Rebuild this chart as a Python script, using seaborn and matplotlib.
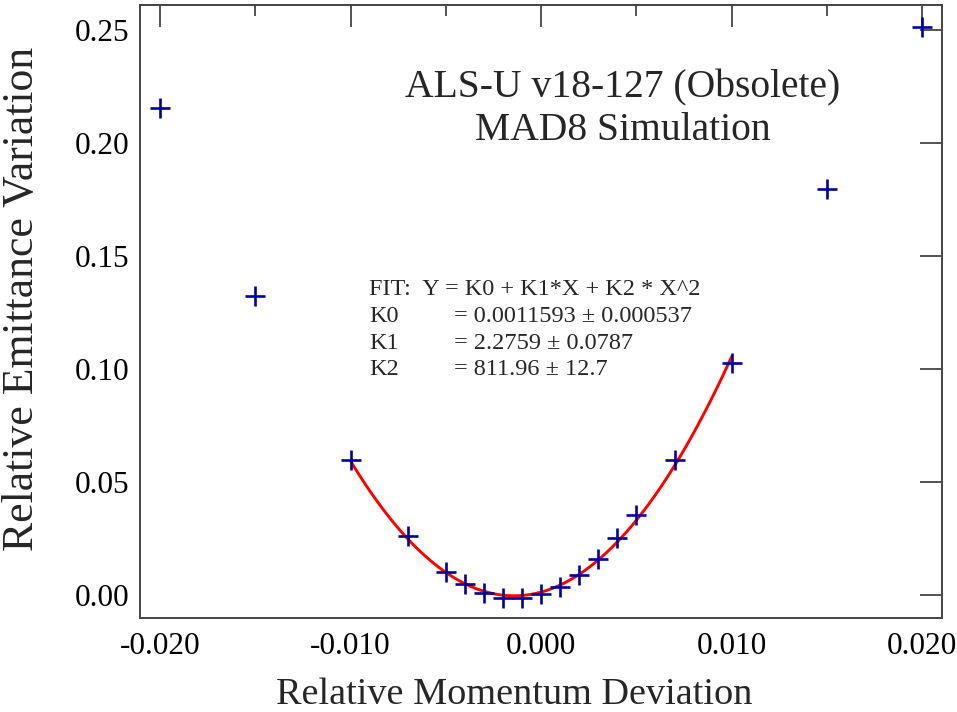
import matplotlib
matplotlib.use("Agg")
import matplotlib.pyplot as plt
import matplotlib.ticker as mticker
import seaborn as sns
import pandas as pd

# relative momentum deviation and relative emittance variation
momentum = [-0.020, -0.015, -0.010, -0.007, -0.005, -0.004, -0.003, -0.002, -0.001,
            0.000, 0.001, 0.002, 0.003, 0.004, 0.005, 0.007, 0.010, 0.015, 0.020]
emittance = [0.2153, 0.1322, 0.0597, 0.0262, 0.0100, 0.0047, 0.0010, -0.0015, -0.0015,
             0.0004, 0.0037, 0.0088, 0.0161, 0.0251, 0.0354, 0.0597, 0.1026, 0.1795, 0.2515]

fit_range = (-0.010, 0.010)
fit_labels = ["K0", "K1", "K2"]
fit_values = ["= 0.0011593 \u00b1 0.000537", "= 2.2759 \u00b1 0.0787", "= 811.96 \u00b1 12.7"]

df = pd.DataFrame({"x": momentum, "y": emittance})
df_fit = df[(df["x"] >= fit_range[0]) & (df["x"] <= fit_range[1])]

sns.set_style("white")
plt.rcParams["font.family"] = ["Liberation Serif", "DejaVu Serif"]
plt.rcParams["axes.unicode_minus"] = False

fig = plt.figure(figsize=(9.57, 7.12), dpi=100)
ax = fig.add_axes([0.1463, 0.1316, 0.8377, 0.8614])

sns.regplot(data=df_fit, x="x", y="y", order=2, scatter=False, ci=None, truncate=True,
            color="#ff0000", line_kws={"linewidth": 2.1}, ax=ax)
sns.scatterplot(data=df, x="x", y="y", marker="+", s=190, color="#00009c",
                linewidth=1.9, ax=ax, zorder=3)

ax.set_xlim(-0.02105, 0.02102)
ax.set_ylim(-0.0103, 0.2611)
ax.xaxis.set_major_locator(mticker.MultipleLocator(0.01))
ax.xaxis.set_minor_locator(mticker.MultipleLocator(0.005))
ax.yaxis.set_major_locator(mticker.MultipleLocator(0.05))
ax.xaxis.set_major_formatter(mticker.FormatStrFormatter("%.3f"))
ax.yaxis.set_major_formatter(mticker.FormatStrFormatter("%.2f"))
ax.tick_params(which="both", direction="in", top=True, right=True, colors="#444444",
               labelcolor="black", labelsize=22.5, width=1.3)
ax.tick_params(which="major", length=16, pad=8)
ax.tick_params(axis="x", which="major", pad=10)
ax.tick_params(which="minor", length=8)

for s in ax.spines.values():
    s.set_color("#444444")
    s.set_linewidth(1.4)

ax.set_xlabel("Relative Momentum Deviation", fontsize=27.5, va="center")
ax.set_ylabel("Relative Emittance Variation", fontsize=31.5, va="center")
ax.xaxis.set_label_coords(0.4665, -0.125)
ax.yaxis.set_label_coords(-0.147, 0.521)

ax.text(0.6025, 0.8295, "ALS-U v18-127 (Obsolete)\nMAD8 Simulation", transform=ax.transAxes,
        ha="center", va="center", fontsize=28.5, linespacing=1.2)

fit_y = [0.536, 0.492, 0.448, 0.405]
ax.text(0.286, fit_y[0], "FIT:  Y = K0 + K1*X + K2 * X^2", transform=ax.transAxes,
        ha="left", va="center", fontsize=17.5)
for yy, lab, val in zip(fit_y[1:], fit_labels, fit_values):
    ax.text(0.286, yy, lab, transform=ax.transAxes, ha="left", va="center", fontsize=17.5)
    ax.text(0.392, yy, val, transform=ax.transAxes, ha="left", va="center", fontsize=17.5)

fig.savefig("out.png", dpi=100)
